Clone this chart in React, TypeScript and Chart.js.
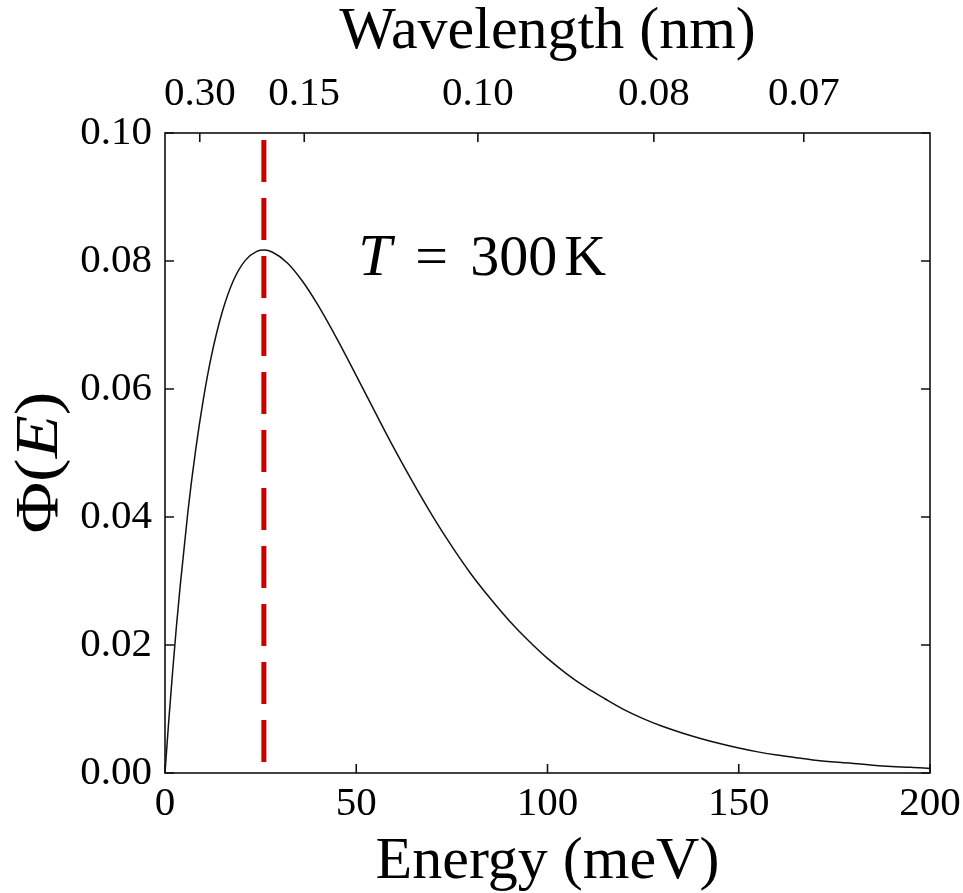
import React, { useEffect, useRef } from "react";
import { Chart, registerables } from "chart.js";

Chart.register(...registerables);

// ---- data ----
const energy = [0, 1, 2, 3, 4, 6, 8, 10, 12, 15, 18, 21, 24, 26, 28, 32, 36, 40, 45, 50, 55, 60, 65, 70, 75, 80, 85, 90, 95, 100, 105, 110, 115, 120, 125, 130, 135, 140, 145, 150, 155, 160, 165, 170, 175, 180, 185, 190, 195, 200];
const flux = [0, 0.0083, 0.0159, 0.023, 0.0294, 0.0409, 0.0504, 0.0583, 0.0648, 0.0721, 0.0771, 0.0801, 0.0815, 0.0817, 0.0814, 0.0797, 0.0768, 0.0731, 0.0678, 0.0621, 0.0563, 0.0506, 0.0452, 0.0401, 0.0354, 0.0311, 0.0273, 0.0238, 0.0207, 0.0179, 0.0155, 0.0134, 0.0116, 0.0099, 0.0085, 0.0073, 0.0063, 0.0054, 0.0046, 0.0039, 0.0033, 0.0028, 0.0024, 0.002, 0.0017, 0.0015, 0.0012, 0.001, 0.0009, 0.0007];
const peakEnergy = [25.85, 25.85];
const peakLineY = [0.1, 0.0];
const wavelengthTickEnergy = [9.09, 36.4, 81.8, 127.8, 167.0];
const wavelengthTickLabels = ["0.30", "0.15", "0.10", "0.08", "0.07"];
const xTitle = "Energy (meV)";
const topTitle = "Wavelength (nm)";
const annotationParts = ["T", "=", "300", "K"];
const yTitleParts = ["\u03A6(", "E", ")"];

const FONT = "'Liberation Serif', 'Times New Roman', 'DejaVu Serif', serif";

export default function App() {
  const ref = useRef<HTMLCanvasElement | null>(null);

  useEffect(() => {
    const canvas = ref.current;
    if (!canvas) return;

    const framePlugin = {
      id: "frameTicks",
      afterDatasetsDraw(chart: any) {
        const { ctx, chartArea: ca, scales } = chart;
        ctx.save();
        ctx.strokeStyle = "#111";
        ctx.lineWidth = 1.6;
        ctx.strokeRect(ca.left, ca.top, ca.right - ca.left, ca.bottom - ca.top);
        const L = 9;
        ctx.beginPath();
        scales.x.ticks.forEach((t: any) => {
          const px = scales.x.getPixelForValue(t.value);
          ctx.moveTo(px, ca.bottom);
          ctx.lineTo(px, ca.bottom - L);
        });
        scales.xTop.ticks.forEach((t: any) => {
          const px = scales.xTop.getPixelForValue(t.value);
          ctx.moveTo(px, ca.top);
          ctx.lineTo(px, ca.top + L);
        });
        scales.y.ticks.forEach((t: any) => {
          const py = scales.y.getPixelForValue(t.value);
          ctx.moveTo(ca.left, py);
          ctx.lineTo(ca.left + L, py);
        });
        scales.yRight.ticks.forEach((t: any) => {
          const py = scales.yRight.getPixelForValue(t.value);
          ctx.moveTo(ca.right, py);
          ctx.lineTo(ca.right - L, py);
        });
        ctx.stroke();
        ctx.restore();
      },
      afterDraw(chart: any) {
        const { ctx, scales } = chart;
        ctx.save();
        ctx.fillStyle = "#000";
        ctx.textBaseline = "alphabetic";
        ctx.textAlign = "left";
        // T = 300 K annotation
        const ax = scales.x.getPixelForValue(50.5);
        const ay = scales.y.getPixelForValue(0.0778);
        ctx.font = `italic 60px ${FONT}`;
        ctx.fillText(annotationParts[0], ax, ay);
        ctx.font = `58px ${FONT}`;
        ctx.fillText(annotationParts[1], ax + 57, ay);
        ctx.fillText(annotationParts[2], ax + 112, ay);
        ctx.fillText(annotationParts[3], ax + 206, ay);
        ctx.restore();

        // y-axis title  Φ(E)
        ctx.save();
        ctx.fillStyle = "#000";
        ctx.textBaseline = "alphabetic";
        ctx.textAlign = "left";
        const cy = scales.y.getPixelForValue(0.0485);
        ctx.translate(57, cy);
        ctx.rotate(-Math.PI / 2);
        ctx.scale(1.14, 1);
        const up = `62px ${FONT}`;
        const it = `italic 62px ${FONT}`;
        const fonts = [up, it, up];
        const widths = yTitleParts.map((s, i) => {
          ctx.font = fonts[i];
          return ctx.measureText(s).width;
        });
        const total = widths.reduce((a, b) => a + b, 0);
        let x = -total / 2;
        yTitleParts.forEach((s, i) => {
          ctx.font = fonts[i];
          ctx.fillText(s, x, 0);
          x += widths[i];
        });
        ctx.restore();
      },
    };

    const tickFont = { family: FONT, size: 41 };
    const noGrid = { display: false, drawTicks: false };
    const noBorder = { display: false };
    const zeroPad = (s: any) => {
      s.paddingLeft = 0;
      s.paddingRight = 0;
      s.paddingTop = 0;
      s.paddingBottom = 0;
    };

    const chart = new Chart(canvas, {
      type: "line",
      data: {
        datasets: [
          {
            label: "flux",
            data: energy.map((e, i) => ({ x: e, y: flux[i] })),
            borderColor: "#111",
            borderWidth: 1.5,
            pointRadius: 0,
            fill: false,
            cubicInterpolationMode: "monotone",
          },
          {
            label: "peak",
            data: peakEnergy.map((e, i) => ({ x: e, y: peakLineY[i] })),
            borderColor: "rgb(200,0,0)",
            borderWidth: 5,
            borderDash: [42, 16],
            borderDashOffset: 51,
            pointRadius: 0,
            fill: false,
          },
        ],
      },
      options: {
        animation: false,
        responsive: false,
        devicePixelRatio: 1,
        layout: { padding: 0 },
        plugins: { legend: { display: false }, tooltip: { enabled: false } },
        scales: {
          x: {
            type: "linear",
            position: "bottom",
            min: 0,
            max: 200,
            grid: noGrid,
            border: noBorder,
            ticks: { stepSize: 50, color: "#000", font: tickFont, padding: 7, maxRotation: 0, autoSkip: false },
            title: {
              display: true,
              text: xTitle,
              color: "#000",
              font: { family: FONT, size: 60, lineHeight: 1 },
              padding: { top: 0, bottom: 1 },
            },
            afterFit: (s: any) => {
              s.height = 120;
              zeroPad(s);
            },
          },
          xTop: {
            type: "linear",
            position: "top",
            min: 0,
            max: 200,
            grid: noGrid,
            border: noBorder,
            afterBuildTicks: (s: any) => {
              s.ticks = wavelengthTickEnergy.map((v) => ({ value: v }));
            },
            ticks: {
              color: "#000",
              font: tickFont,
              padding: 14,
              maxRotation: 0,
              autoSkip: false,
              callback: (_v: any, i: number) => wavelengthTickLabels[i],
            },
            title: {
              display: true,
              text: topTitle,
              color: "#000",
              font: { family: FONT, size: 60, lineHeight: 1 },
              padding: { top: 2, bottom: 0 },
            },
            afterFit: (s: any) => {
              s.height = 133;
              zeroPad(s);
            },
          },
          y: {
            type: "linear",
            position: "left",
            min: 0,
            max: 0.1,
            grid: noGrid,
            border: noBorder,
            ticks: {
              stepSize: 0.02,
              color: "#000",
              font: tickFont,
              padding: 13,
              callback: (v: any) => Number(v).toFixed(2),
            },
            title: { display: false },
            afterFit: (s: any) => {
              s.width = 165;
              zeroPad(s);
            },
          },
          yRight: {
            type: "linear",
            position: "right",
            min: 0,
            max: 0.1,
            grid: noGrid,
            border: noBorder,
            ticks: { stepSize: 0.02, display: false },
            afterFit: (s: any) => {
              s.width = 33;
              zeroPad(s);
            },
          },
        },
      } as any,
      plugins: [framePlugin],
    });

    return () => chart.destroy();
  }, []);

  return (
    <div style={{ position: "absolute", left: 0, top: 0, width: 963, height: 893, background: "#fff" }}>
      <canvas ref={ref} width={963} height={893} style={{ display: "block", width: 963, height: 893 }} />
    </div>
  );
}
